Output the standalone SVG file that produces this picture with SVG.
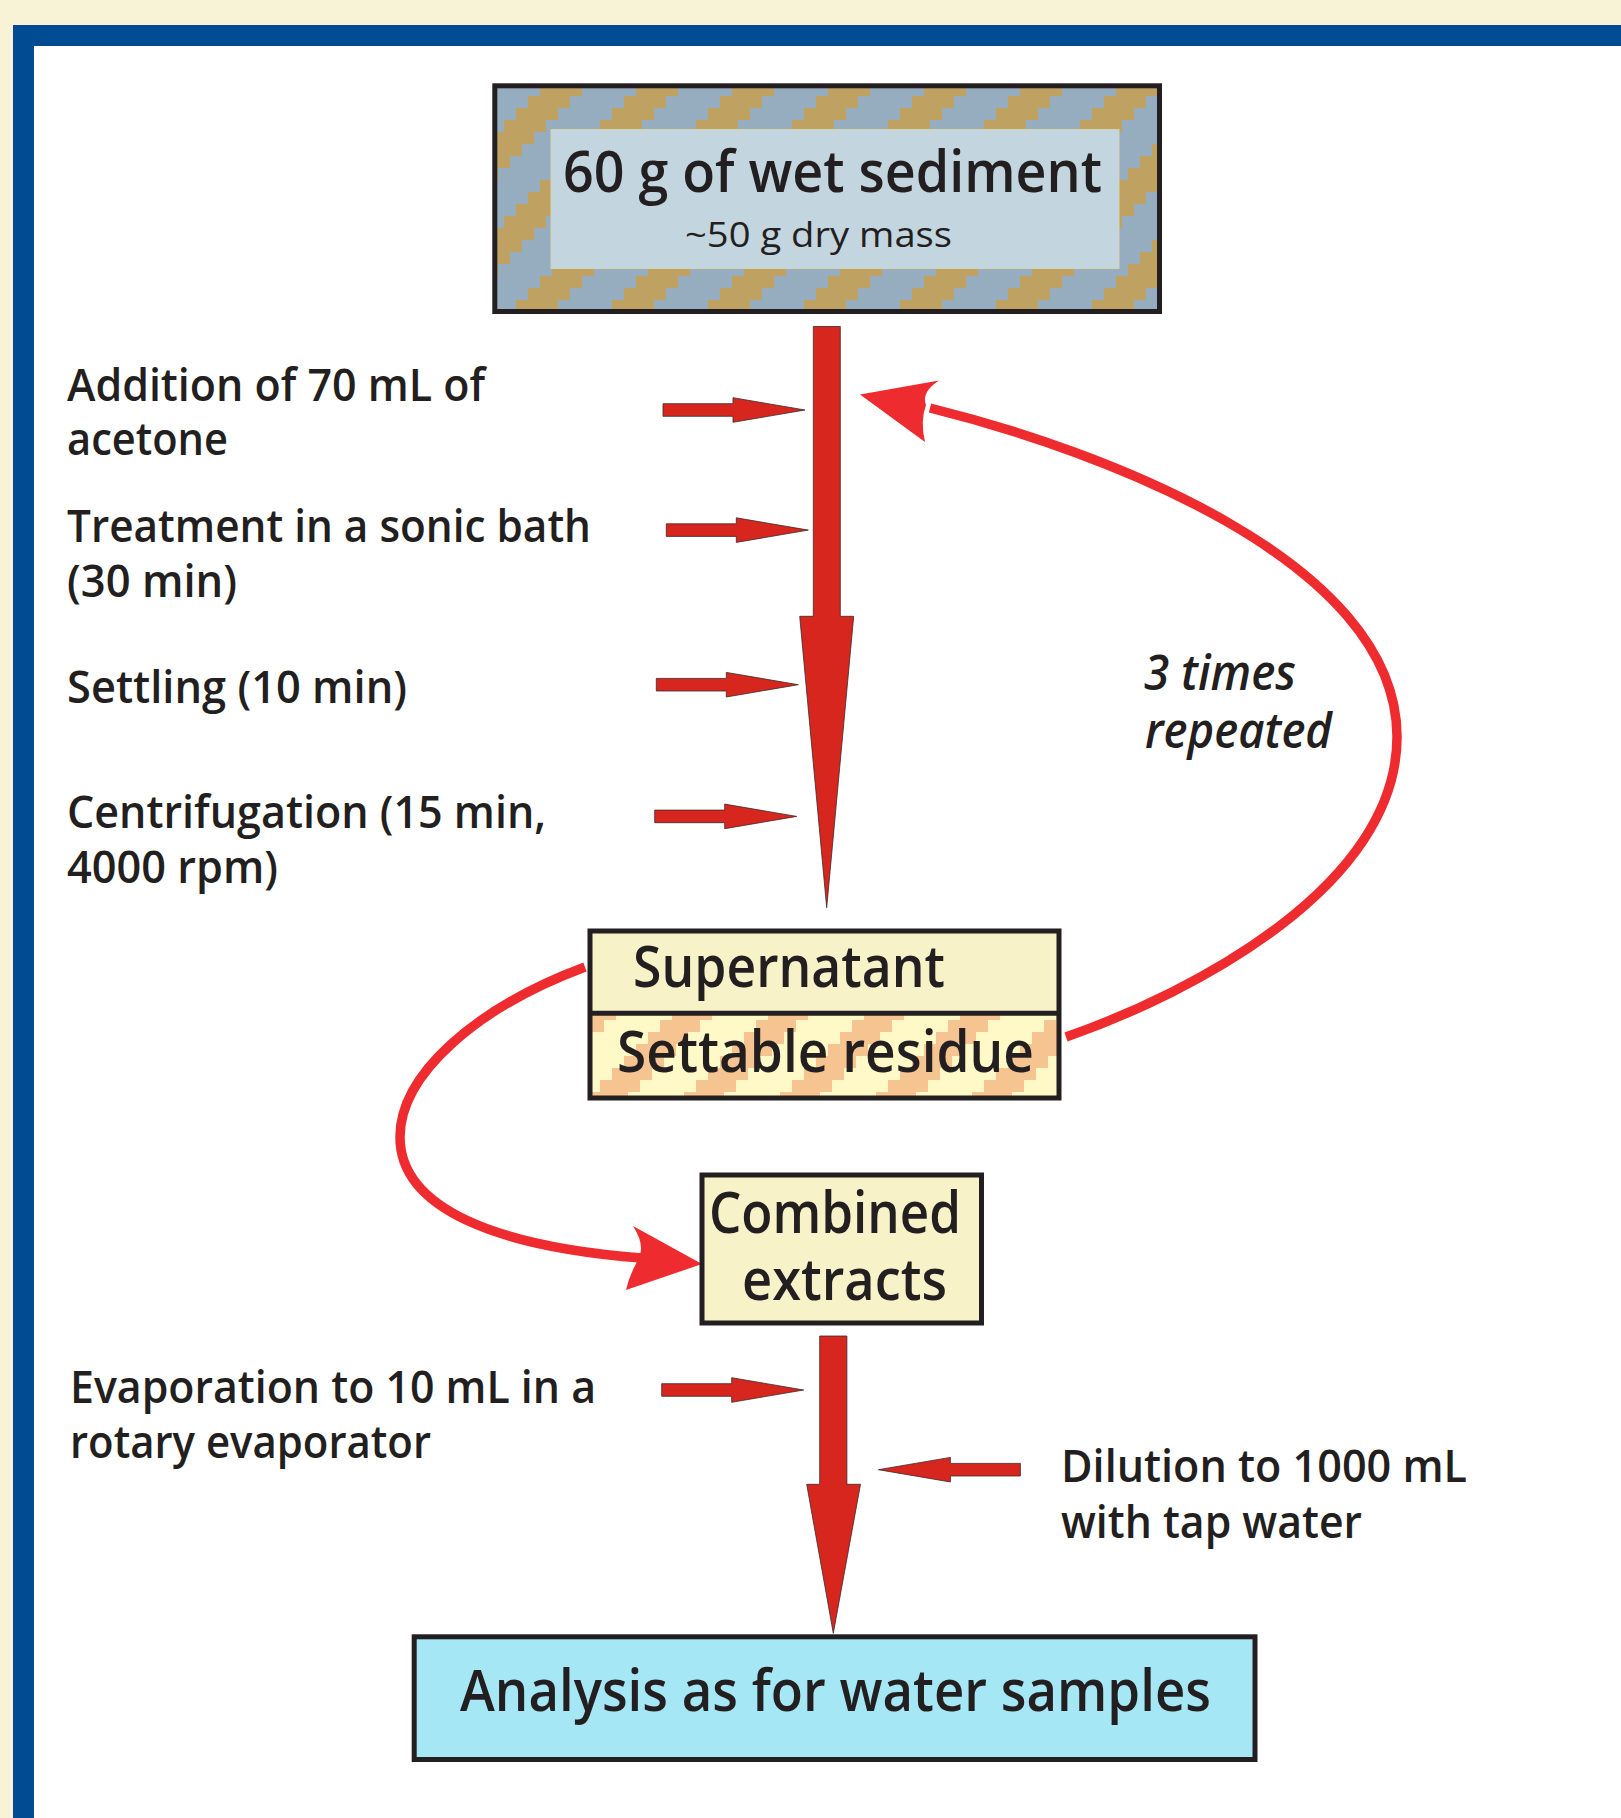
<svg xmlns="http://www.w3.org/2000/svg" width="1621" height="1818" viewBox="0 0 1621 1818">
<style>
.t{font-family:"Open Sans","Noto Sans","Liberation Sans",sans-serif;font-weight:600;fill:#231F20}
.lbl{font-size:45px}
.ttl{font-size:58px}
.thin{font-size:35px;font-weight:400}
.it{font-size:48px;font-style:italic}
.box{stroke:#231F20;stroke-width:5}
.arr{fill:#D7261E;stroke:#3A2A2A;stroke-width:0.8}
.loop{fill:none;stroke:#EE2B2F;stroke-width:9.5}
.head{fill:#EE2B2F}
</style>
<defs>
<pattern id="sed" patternUnits="userSpaceOnUse" x="0" y="0" width="96" height="96">
<rect width="96" height="96" fill="#96ACBF"/>
<g fill="#BFA162">
<rect x="48" y="0" width="42" height="12"/>
<rect x="36" y="12" width="42" height="12"/>
<rect x="24" y="24" width="42" height="12"/>
<rect x="12" y="36" width="42" height="12"/>
<rect x="0" y="48" width="42" height="12"/>
<rect x="84" y="60" width="42" height="12"/><rect x="-12" y="60" width="42" height="12"/>
<rect x="72" y="72" width="42" height="12"/><rect x="-24" y="72" width="42" height="12"/>
<rect x="60" y="84" width="42" height="12"/><rect x="-36" y="84" width="42" height="12"/>
</g>
</pattern>
<pattern id="res" patternUnits="userSpaceOnUse" x="0" y="0" width="96" height="96">
<rect width="96" height="96" fill="#FFF9C8"/>
<g fill="#F5C490">
<rect x="48" y="0" width="40" height="12"/>
<rect x="36" y="12" width="40" height="12"/>
<rect x="24" y="24" width="40" height="12"/>
<rect x="12" y="36" width="40" height="12"/>
<rect x="0" y="48" width="40" height="12"/>
<rect x="84" y="60" width="40" height="12"/><rect x="-12" y="60" width="40" height="12"/>
<rect x="72" y="72" width="40" height="12"/><rect x="-24" y="72" width="40" height="12"/>
<rect x="60" y="84" width="40" height="12"/><rect x="-36" y="84" width="40" height="12"/>
</g>
</pattern>
<path id="sarrow" d="M-142,-6.3 H-72 V-12.3 L0,0 L-72,12.3 V6.3 H-142 Z"/>
</defs>

<g id="frame">
<rect x="0" y="0" width="1621" height="1818" fill="#F8F3D6"/>
<rect x="13" y="25" width="1608" height="1793" fill="#004B91"/>
<rect x="34" y="46" width="1587" height="1772" fill="#FFFFFF"/>
</g>

<g id="connectors">
<polygon class="arr" points="813.3,326.5 840.3,326.5 840.3,616.3 853.7,616.3 826.7,907.7 799.7,616.3 813.3,616.3"/>
<polygon class="arr" points="819.7,1336 846.9,1336 846.9,1484.3 860.5,1484.3 833.3,1633.3 806.7,1484.3 819.7,1484.3"/>
<use href="#sarrow" class="arr" transform="translate(805,410)"/>
<use href="#sarrow" class="arr" transform="translate(808.3,530.1)"/>
<use href="#sarrow" class="arr" transform="translate(798.3,684.7)"/>
<use href="#sarrow" class="arr" transform="translate(796.7,816.4)"/>
<use href="#sarrow" class="arr" transform="translate(803.7,1390)"/>
<use href="#sarrow" class="arr" transform="translate(878.4,1469.7) scale(-1,1)"/>
<path class="loop" d="M1066,1037 C1195,992 1398,885 1397,736 C1396,560 1100,450 930,408"/>
<path class="head" d="M860,394.5 L939,380.5 Q921,392 926,405 Q920,421 925,442 Z"/>
<path class="loop" d="M585,967 C475,1008 400,1075 400,1137 C400,1210 500,1247 642,1258"/>
<path class="head" d="M702,1264 L633,1226 Q646,1246 638,1260 Q629,1276 626,1290 Z"/>
</g>

<g id="node-sediment">
<rect class="box" x="494.8" y="85.8" width="664.7" height="225.7" fill="url(#sed)"/>
<rect x="551" y="129.5" width="568" height="139" fill="#C3D5DF" stroke="#D6D3B0" stroke-width="1"/>
<text class="t ttl" x="563" y="192" textLength="539" lengthAdjust="spacingAndGlyphs">60 g of wet sediment</text>
<text class="t thin" x="685" y="247" textLength="267" lengthAdjust="spacingAndGlyphs">~50 g dry mass</text>
</g>

<g id="node-supernatant">
<rect x="590" y="931" width="469" height="82" fill="#F8F2C8"/>
<rect x="590" y="1013" width="469" height="85" fill="url(#res)"/>
<rect class="box" x="590" y="931" width="469" height="167" fill="none"/>
<line x1="590" y1="1013.3" x2="1059" y2="1013.3" stroke="#231F20" stroke-width="5"/>
<text class="t ttl" x="633" y="987" textLength="312" lengthAdjust="spacingAndGlyphs">Supernatant</text>
<text class="t ttl" x="617" y="1072" textLength="417" lengthAdjust="spacingAndGlyphs">Settable residue</text>
</g>

<g id="node-combined">
<rect class="box" x="702" y="1175" width="279.5" height="148" fill="#F8F2C8"/>
<text class="t ttl" x="709" y="1233" textLength="252" lengthAdjust="spacingAndGlyphs">Combined</text>
<text class="t ttl" x="742" y="1300" textLength="205" lengthAdjust="spacingAndGlyphs">extracts</text>
</g>

<g id="node-analysis">
<rect class="box" x="414.2" y="1636.8" width="840.8" height="122.7" fill="#A6E7F5"/>
<text class="t ttl" x="460" y="1711" textLength="751" lengthAdjust="spacingAndGlyphs">Analysis as for water samples</text>
</g>

<g id="labels">
<text class="t lbl" x="67" y="401" textLength="418" lengthAdjust="spacingAndGlyphs">Addition of 70 mL of</text>
<text class="t lbl" x="67" y="455" textLength="161" lengthAdjust="spacingAndGlyphs">acetone</text>
<text class="t lbl" x="67" y="542" textLength="524" lengthAdjust="spacingAndGlyphs">Treatment in a sonic bath</text>
<text class="t lbl" x="67" y="597" textLength="170" lengthAdjust="spacingAndGlyphs">(30 min)</text>
<text class="t lbl" x="67" y="702.5" textLength="340" lengthAdjust="spacingAndGlyphs">Settling (10 min)</text>
<text class="t lbl" x="67" y="827.5" textLength="479" lengthAdjust="spacingAndGlyphs">Centrifugation (15 min,</text>
<text class="t lbl" x="67" y="883" textLength="211" lengthAdjust="spacingAndGlyphs">4000 rpm)</text>
<text class="t lbl" x="70" y="1403" textLength="526" lengthAdjust="spacingAndGlyphs">Evaporation to 10 mL in a</text>
<text class="t lbl" x="70" y="1458" textLength="361" lengthAdjust="spacingAndGlyphs">rotary evaporator</text>
<text class="t lbl" x="1061" y="1482" textLength="406" lengthAdjust="spacingAndGlyphs">Dilution to 1000 mL</text>
<text class="t lbl" x="1061" y="1538" textLength="301" lengthAdjust="spacingAndGlyphs">with tap water</text>
<text class="t it" x="1144" y="690" textLength="152" lengthAdjust="spacingAndGlyphs">3 times</text>
<text class="t it" x="1145" y="748" textLength="187" lengthAdjust="spacingAndGlyphs">repeated</text>
</g>
</svg>
